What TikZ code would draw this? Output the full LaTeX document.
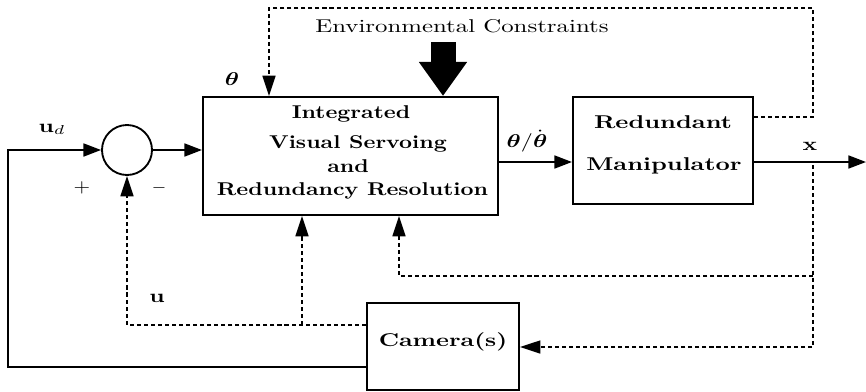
\documentclass[tikz,border=0pt]{standalone}
\usepackage{amsmath}
\usepackage{graphicx}
\usetikzlibrary{arrows.meta,calc}
\newcommand{\sx}[2][1.3]{\scalebox{#1}[1]{#2}}
\begin{document}
\begin{tikzpicture}[x=0.54pt,y=-0.54pt,
  box/.style={draw,rectangle,line width=1.1pt,inner sep=0pt},
  sig/.style={line width=1pt,-{Triangle[length=9.5pt,width=7pt]}},
  fbline/.style={line width=0.9pt,dash pattern=on 2.2pt off 1.6pt},
  fbarrow/.style={fbline,-{Triangle[length=11pt,width=7pt]}},
  lbl/.style={inner sep=0pt,anchor=base}]
\useasboundingbox (0,0) rectangle (866,391);

% blocks
\node[draw,circle,line width=1pt,minimum size=27pt,inner sep=0pt] (sum) at (127,150) {};
\node[box,minimum width=159.3pt,minimum height=63.7pt] (main) at (350.5,156) {};
\node[box,minimum width=97.2pt,minimum height=57.8pt] (manip) at (663,150.5) {};
\node[box,minimum width=82.1pt,minimum height=47pt] (cam) at (443,346.5) {};

% block texts
\node[lbl] (t1) at (351,118) {\bfseries\sx[1.22]{Integrated}};
\node[lbl] (t2) at (358,148) {\bfseries\sx[1.22]{Visual Servoing}};
\node[lbl] (t3) at (348,172) {\bfseries\sx[1.22]{and}};
\node[lbl] (t4) at (352.5,195) {\bfseries\sx[1.22]{Redundancy Resolution}};
\node[lbl] (m1) at (663,128) {\bfseries\sx[1.34]{Redundant}};
\node[lbl] (m2) at (664,170) {\bfseries\sx[1.34]{Manipulator}};
\node[lbl] (c1) at (443,346) {\bfseries\sx[1.32]{Camera(s)}};
\node[lbl] (env) at (462,32) {\sx[1.34]{Environmental Constraints}};

% signal labels
\node[lbl] (lth) at (232,85) {\sx{$\boldsymbol{\theta}$}};
\node[lbl] (lthd) at (527,147) {\sx{$\boldsymbol{\theta}/\dot{\boldsymbol{\theta}}$}};
\node[lbl] (lud) at (52,132) {\sx{$\mathbf{u}_d$}};
\node[lbl] (lu) at (157,302) {\sx{$\mathbf{u}$}};
\node[lbl] (lx) at (810,150) {\sx{$\mathbf{x}$}};
\node[inner sep=0pt] (lp) at (82,188) {\sx[1.15]{$+$}};
\node[inner sep=0pt] (lm) at (159,188) {$-$};

% helper coordinates
\coordinate (fb) at (8,367);
\coordinate (xo) at (866,162);
\coordinate (k1) at (813,117);
\coordinate (tr) at (813,8);
\coordinate (tl) at (269,8);
\coordinate (xs) at (813,165);
\coordinate (br) at (813,347);
\coordinate (k2) at (813,276);
\coordinate (k3) at (399,276);
\coordinate (bl) at (127,325);
\coordinate (k5) at (302,325);
\coordinate (ec) at (443,42);

% solid signals
\draw[sig] (cam.west |- fb) -- (fb) |- (sum.west);
\draw[sig] (sum.east) -- (sum.east -| main.west);
\draw[sig] (main.east |- xo) -- (manip.west |- xo);
\draw[sig] (manip.east |- xo) -- (xo);

% dotted feedback
\draw[fbarrow] (manip.east |- k1) -- (k1) -- (tr) -- (tl) -- (tl |- main.north);
\draw[fbarrow] (xs) -- (br) -- (cam.east |- br);
\draw[fbarrow] (k2) -- (k3) -- (k3 |- main.south);
\draw[fbarrow] (cam.west |- bl) -- (bl) -- (sum.south);
\draw[fbarrow] (k5) -- (k5 |- main.south);

% environmental constraints arrow
\draw[line width=13.5pt,-{Triangle[length=18.4pt,width=24.8pt]}] (ec) -- (ec |- main.north);
\end{tikzpicture}
\end{document}
